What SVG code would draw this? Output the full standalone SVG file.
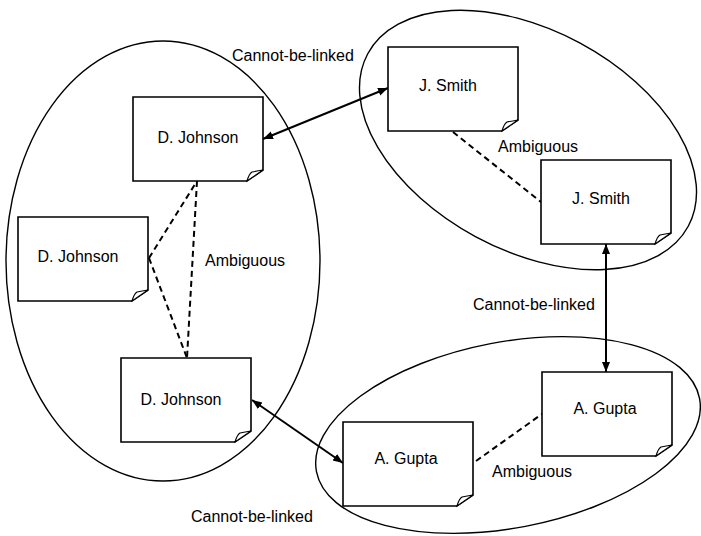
<svg xmlns="http://www.w3.org/2000/svg" width="701" height="536" viewBox="0 0 701 536">
<style>
  .grp { fill: none; stroke: #000; stroke-width: 1.4; }
  .box { fill: #fff; stroke: #000; stroke-width: 1.6; }
  .fold { fill: #fff; stroke: #000; stroke-width: 1.1; }
  .lbl { font-family: "Liberation Sans", Arial, sans-serif; font-size: 16px; fill: #000; }
  .nt { font-family: "Liberation Sans", Arial, sans-serif; font-size: 16px; fill: #000; text-anchor: middle; }
  .link { stroke: #000; stroke-width: 2; fill: none; marker-start: url(#ah); marker-end: url(#ah); }
  .amb { stroke: #000; stroke-width: 2; fill: none; stroke-dasharray: 6 4; }
</style>
<defs>
  <marker id="ah" viewBox="0 0 10 10" refX="10" refY="5" markerWidth="5" markerHeight="5" orient="auto-start-reverse" markerUnits="strokeWidth">
    <path d="M0,1 L10,5 L0,9 Z" fill="#000"/>
  </marker>
  <g id="card">
    <path class="box" d="M0,0 H130 V73 L114,84 H0 Z"/>
    <path class="fold" d="M114,84 Q116,77 119,75 Q124,74 130,73 Z"/>
  </g>
</defs>

<g id="groups">
  <ellipse id="group-johnson" class="grp" cx="163" cy="261" rx="157" ry="220"/>
  <ellipse id="group-smith" class="grp" cx="528" cy="140" rx="182" ry="110" transform="rotate(28.3 528 140)"/>
  <ellipse id="group-gupta" class="grp" cx="508" cy="435" rx="195" ry="93" transform="rotate(-10.8 508 435)"/>
</g>

<g id="connectors">
  <line class="link" x1="263" y1="139" x2="388" y2="88"/>
  <line class="link" x1="606" y1="244" x2="606" y2="372"/>
  <line class="link" x1="252" y1="400" x2="343" y2="463"/>
  <line class="amb" x1="149" y1="258" x2="197" y2="181"/>
  <line class="amb" x1="197" y1="181" x2="187" y2="358"/>
  <line class="amb" x1="149" y1="258" x2="187" y2="358"/>
  <line class="amb" x1="453" y1="132" x2="541" y2="202"/>
  <line class="amb" x1="476" y1="461" x2="542" y2="414"/>
</g>

<g id="labels">
  <text class="lbl" x="232" y="61">Cannot-be-linked</text>
  <text class="lbl" x="498" y="152">Ambiguous</text>
  <text class="lbl" x="205" y="266">Ambiguous</text>
  <text class="lbl" x="473" y="310">Cannot-be-linked</text>
  <text class="lbl" x="191" y="522">Cannot-be-linked</text>
  <text class="lbl" x="492" y="477">Ambiguous</text>
</g>

<g id="node-johnson-1" transform="translate(133,97)">
  <use href="#card"/>
  <text class="nt" x="65" y="46">D. Johnson</text>
</g>
<g id="node-johnson-2" transform="translate(18,217)">
  <use href="#card"/>
  <text class="nt" x="60" y="45">D. Johnson</text>
</g>
<g id="node-johnson-3" transform="translate(121,358)">
  <use href="#card"/>
  <text class="nt" x="60" y="47">D. Johnson</text>
</g>
<g id="node-smith-1" transform="translate(388,47)">
  <use href="#card"/>
  <text class="nt" x="60" y="44">J. Smith</text>
</g>
<g id="node-smith-2" transform="translate(541,160)">
  <use href="#card"/>
  <text class="nt" x="60" y="44">J. Smith</text>
</g>
<g id="node-gupta-1" transform="translate(542,372)">
  <use href="#card"/>
  <text class="nt" x="63" y="42">A. Gupta</text>
</g>
<g id="node-gupta-2" transform="translate(343,422)">
  <use href="#card"/>
  <text class="nt" x="63" y="42">A. Gupta</text>
</g>
</svg>
